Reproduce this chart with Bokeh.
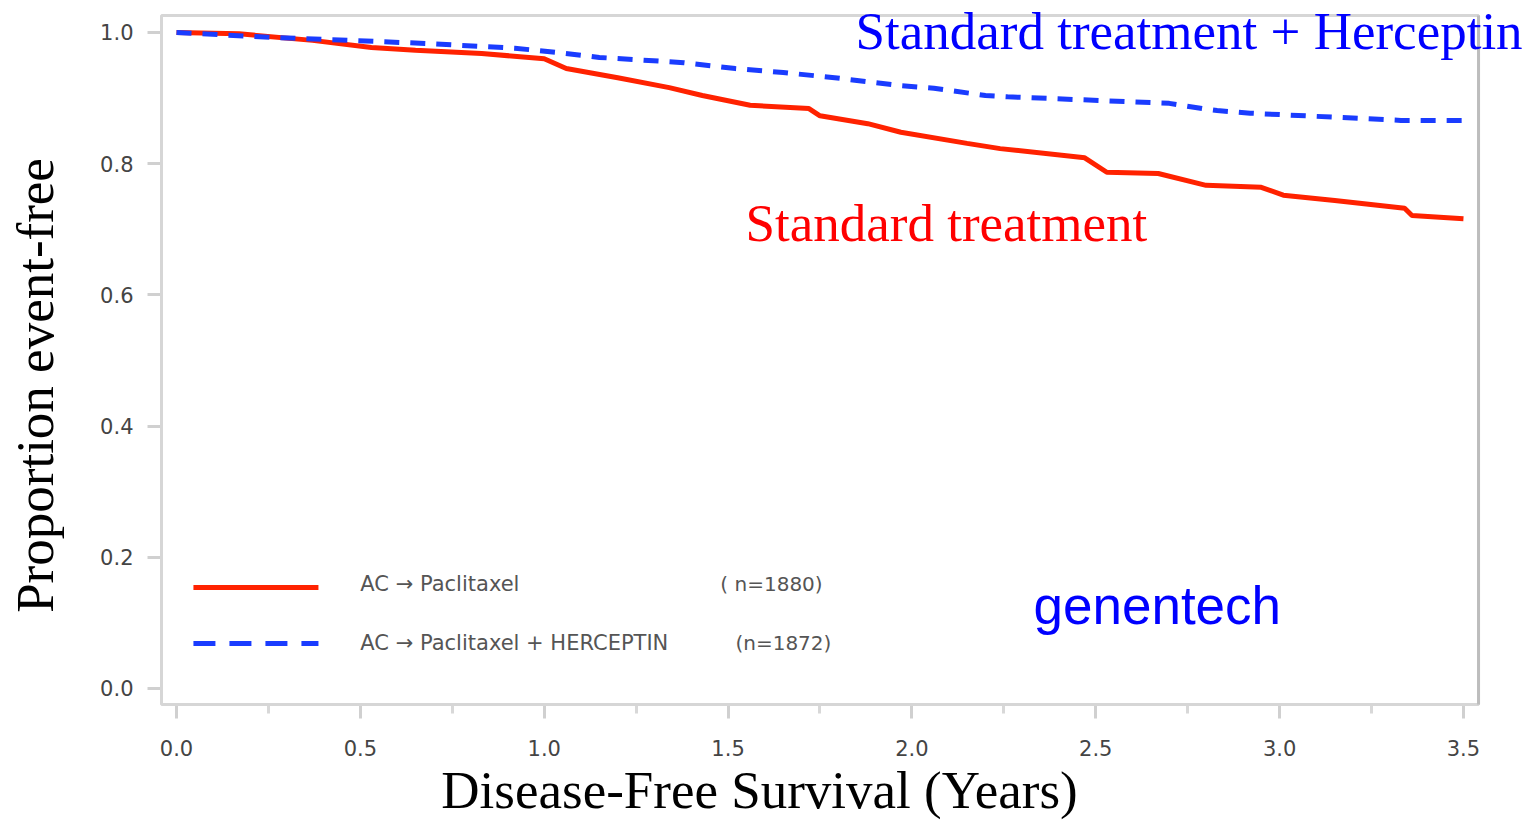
import math

from bokeh.embed import file_html
from bokeh.models import BoxAnnotation, FixedTicker, Label, Range1d
from bokeh.plotting import figure
from bokeh.resources import INLINE

# Kaplan-Meier disease-free survival: years since randomisation vs proportion event-free
ac_years = [0.0, 0.17, 0.37, 0.53, 0.65, 0.83, 1.0, 1.06, 1.2, 1.34, 1.43, 1.56, 1.72,
            1.75, 1.88, 1.97, 2.15, 2.24, 2.47, 2.53, 2.67, 2.8, 2.95, 3.01, 3.15,
            3.34, 3.36, 3.5]
ac_prop = [1.0, 0.998, 0.988, 0.977, 0.973, 0.968, 0.960, 0.945, 0.931, 0.916, 0.904,
           0.889, 0.884, 0.873, 0.861, 0.848, 0.831, 0.823, 0.809, 0.787, 0.785, 0.767,
           0.764, 0.752, 0.744, 0.732, 0.721, 0.716]

ach_years = [0.0, 0.28, 0.47, 0.69, 0.92, 1.03, 1.15, 1.38, 1.52, 1.65, 1.79, 1.97,
             2.06, 2.2, 2.26, 2.7, 2.79, 2.83, 2.92, 3.33, 3.5]
ach_prop = [1.0, 0.992, 0.988, 0.983, 0.976, 0.970, 0.962, 0.954, 0.945, 0.939, 0.931,
            0.919, 0.915, 0.904, 0.902, 0.892, 0.884, 0.881, 0.877, 0.866, 0.866]

series_names = ["AC \u2192 Paclitaxel", "AC \u2192 Paclitaxel + HERCEPTIN"]
series_counts = ["( n=1880)", "(n=1872)"]

x_ticks = [0.0, 0.5, 1.0, 1.5, 2.0, 2.5, 3.0, 3.5]
x_tick_labels = ["0.0", "0.5", "1.0", "1.5", "2.0", "2.5", "3.0", "3.5"]
x_minor_ticks = [0.25, 0.75, 1.25, 1.75, 2.25, 2.75, 3.25]
y_ticks = [0.0, 0.2, 0.4, 0.6, 0.8, 1.0]
y_tick_labels = ["0.0", "0.2", "0.4", "0.6", "0.8", "1.0"]

RED = "#ff2200"
BLUE = "#1a3cff"
SERIF = "Liberation Serif"
SANS = "Liberation Sans"
TICK_FONT = "DejaVu Sans"

# plotting box (data limits of the bordered area)
box_x0, box_x1 = -0.0408, 3.541
box_y0, box_y1 = -0.0244, 1.0259

# the frame spans the whole canvas so that titles and annotations can sit outside the box
p = figure(
    width=1529, height=820,
    x_range=Range1d(-0.4787, 3.6796), y_range=Range1d(-0.20122, 1.04878),
    min_border=0, min_border_left=0, min_border_right=0, min_border_top=0, min_border_bottom=0,
    output_backend="svg", toolbar_location=None,
)
p.background_fill_color = "white"
p.border_fill_color = "white"
p.outline_line_color = None
p.xgrid.visible = False
p.ygrid.visible = False

p.add_layout(BoxAnnotation(left=box_x0, right=box_x1, bottom=box_y0, top=box_y1,
                           fill_alpha=0, line_color="#d6d6d6", line_alpha=1, line_width=3))
p.add_layout(BoxAnnotation(left=box_x1, right=box_x1, bottom=box_y0, top=box_y1,
                           fill_alpha=0, line_color="#bdbdbd", line_alpha=1, line_width=3))

# axes pinned to the edges of the box
p.xaxis.fixed_location = box_y0
p.yaxis.fixed_location = box_x0
p.xaxis.ticker = FixedTicker(ticks=x_ticks, minor_ticks=x_minor_ticks)
p.xaxis.major_label_overrides = {t: s for t, s in zip(x_ticks, x_tick_labels)}
p.yaxis.ticker = FixedTicker(ticks=y_ticks)
p.yaxis.major_label_overrides = {t: s for t, s in zip(y_ticks, y_tick_labels)}
for ax in (p.xaxis, p.yaxis):
    ax.axis_line_color = None
    ax.major_tick_line_color = "#d0d0d0"
    ax.major_tick_line_width = 3
    ax.major_tick_in = 0
    ax.major_tick_out = 14
    ax.minor_tick_line_color = "#d8d8d8"
    ax.minor_tick_line_width = 3
    ax.minor_tick_in = 0
    ax.minor_tick_out = 9
    ax.major_label_text_font = TICK_FONT
    ax.major_label_text_font_size = "21px"
    ax.major_label_text_color = "#444444"
p.yaxis.minor_tick_line_color = None
p.xaxis.major_label_standoff = 21
p.yaxis.major_label_standoff = 14

# survival curves
p.line(ac_years, ac_prop, line_color=RED, line_width=5)
p.line(ach_years, ach_prop, line_color=BLUE, line_width=5, line_dash="15 11")

# key in the lower-left corner of the box
key_x0, key_x1, key_text_x = 0.046, 0.386, 0.50
count_x = [1.479, 1.52]
key_y = [0.154, 0.0686]
key_text_y = [0.160, 0.0686]
key_styles = [dict(line_color=RED, line_width=5),
              dict(line_color=BLUE, line_width=5, line_dash="22 14")]
for i in range(2):
    p.line([key_x0, key_x1], [key_y[i], key_y[i]], **key_styles[i])
    p.add_layout(Label(x=key_text_x, y=key_text_y[i], text=series_names[i],
                       text_font=TICK_FONT, text_font_size="21px", text_color="#555555",
                       text_baseline="middle", text_align="left"))
    p.add_layout(Label(x=count_x[i], y=key_text_y[i], text=series_counts[i],
                       text_font=TICK_FONT, text_font_size="20px", text_color="#555555",
                       text_baseline="middle", text_align="left"))

# curve annotations
p.add_layout(Label(x=1.8466, y=1.0023, text="Standard treatment + Herceptin",
                   text_font=SERIF, text_font_size="53px", text_color="#0000ff",
                   text_baseline="middle", text_align="left"))
p.add_layout(Label(x=1.5475, y=0.7096, text="Standard treatment",
                   text_font=SERIF, text_font_size="53px", text_color="#ff0000",
                   text_baseline="middle", text_align="left"))
p.add_layout(Label(x=2.3307, y=0.1271, text="genentech",
                   text_font=SANS, text_font_size="53px", text_color="#0000ff",
                   text_baseline="middle", text_align="left"))

# axis titles
p.add_layout(Label(x=-0.3862, y=0.4619, text="Proportion event-free", angle=math.pi / 2,
                   text_font=SERIF, text_font_size="53px", text_color="black",
                   text_baseline="middle", text_align="center"))
p.add_layout(Label(x=1.5855, y=-0.1540, text="Disease-Free Survival (Years)",
                   text_font=SERIF, text_font_size="53px", text_color="black",
                   text_baseline="middle", text_align="center"))

open("out.html", "w").write(file_html(p, INLINE))
